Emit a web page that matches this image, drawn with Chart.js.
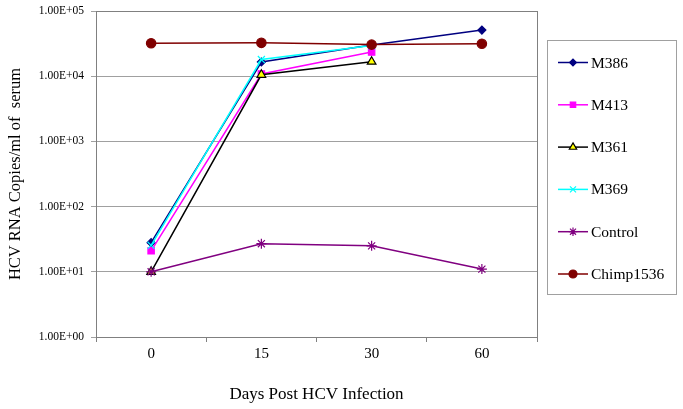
<!DOCTYPE html>
<html>
<head>
<meta charset="utf-8">
<script src="https://cdn.jsdelivr.net/npm/chart.js@4/dist/chart.umd.min.js"></script>
<style>
  html, body { margin: 0; padding: 0; background: #fff; }
  #wrap { width: 683px; height: 409px; }
</style>
</head>
<body>
<div id="wrap"><canvas id="chart" width="683" height="409"></canvas></div>
<script>
const days = ["0", "15", "30", "60"];
const m386 = [28, 16500, 30000, 51000];
const m413 = [21, 10800, 23500, null];
const m361 = [10, 10500, 16700, null];
const m369 = [25.5, 18000, 29500, null];
const control = [10, 27, 25, 11];
const chimp1536 = [32000, 32500, 30500, 31500];
const yTicks = [1, 10, 100, 1000, 10000, 100000];

const serif = "'Liberation Serif', 'Times New Roman', serif";

function series(label, data, color, style, radius, fill, order) {
    return {
        label: label,
        data: data,
        borderColor: color,
        backgroundColor: fill || color,
        pointBorderColor: color,
        pointBackgroundColor: fill || color,
        pointStyle: style,
        pointRadius: radius,
        pointBorderWidth: 1.2,
        borderWidth: 1.5,
        tension: 0,
        order: order
    };
}

const datasets = [
    series("M386", m386, "#000080", "rectRot", 4, null, 6),
    series("M413", m413, "#FF00FF", "rect", 4.5, null, 5),
    series("M361", m361, "#000000", "triangle", 5, "#FFFF00", 4),
    series("M369", m369, "#00FFFF", "crossRot", 5, null, 3),
    series("Control", control, "#800080", "star", 5, null, 2),
    series("Chimp1536", chimp1536, "#800000", "circle", 4.7, null, 1)
];

// frame round the plot area plus the boxed legend on the right
const framePlugin = {
    id: "frame",
    afterDraw(chart) {
        const ctx = chart.ctx;
        const a = chart.chartArea;
        ctx.save();
        ctx.strokeStyle = "#808080";
        ctx.lineWidth = 1;
        ctx.strokeRect(a.left + 0.5, a.top + 0.5, a.right - a.left, a.bottom - a.top);

        ctx.strokeStyle = "#a0a0a0";
        ctx.strokeRect(547.5, 40.5, 129, 254);
        ctx.font = "15.5px " + serif;
        ctx.textBaseline = "middle";
        ctx.fillStyle = "#000";
        chart.data.datasets.forEach((ds, i) => {
            const y = 62.5 + i * 42.3;
            ctx.strokeStyle = ds.borderColor;
            ctx.lineWidth = 1.5;
            ctx.beginPath();
            ctx.moveTo(558, y);
            ctx.lineTo(588, y);
            ctx.stroke();
            ctx.lineWidth = 1.2;
            ctx.fillStyle = ds.pointBackgroundColor;
            Chart.helpers.drawPoint(ctx, { pointStyle: ds.pointStyle, radius: ds.pointRadius * 0.85, borderWidth: 1.2, rotation: 0 }, 573, y);
            ctx.fillStyle = "#000";
            ctx.fillText(ds.label, 591, y + 1);
        });
        ctx.restore();
    }
};

new Chart(document.getElementById("chart"), {
    type: "line",
    data: { labels: days, datasets: datasets },
    plugins: [framePlugin],
    options: {
        responsive: false,
        animation: false,
        layout: { padding: { top: 11, right: 146, bottom: 0, left: 2 } },
        plugins: {
            legend: { display: false },
            tooltip: { enabled: false }
        },
        scales: {
            x: {
                type: "category",
                offset: true,
                afterFit: s => { s.height = 72; s.paddingLeft = 0; s.paddingRight = 0; },
                grid: { drawOnChartArea: false, drawTicks: true, tickLength: 5, color: "#808080", offset: true },
                border: { color: "#808080" },
                ticks: { color: "#000", font: { family: serif, size: 15 }, padding: 3 },
                title: { display: true, text: "Days Post HCV Infection", color: "#000", font: { family: serif, size: 17 }, padding: { top: 14 } }
            },
            y: {
                type: "logarithmic",
                min: 1,
                max: 100000,
                afterFit: s => { s.width = 94; s.paddingTop = 0; s.paddingBottom = 0; },
                afterBuildTicks: s => { s.ticks = yTicks.map(v => ({ value: v })); },
                grid: { color: "#a0a0a0", tickLength: 5, drawTicks: true },
                border: { color: "#808080" },
                ticks: {
                    color: "#000",
                    font: { family: serif, size: 11.5 },
                    padding: 7,
                    callback: v => "1.00E+0" + Math.round(Math.log10(v))
                },
                title: { display: true, text: "HCV RNA Copies/ml of  serum", color: "#000", font: { family: serif, size: 16.5 }, padding: { bottom: 6 } }
            }
        }
    }
});
</script>
</body>
</html>
